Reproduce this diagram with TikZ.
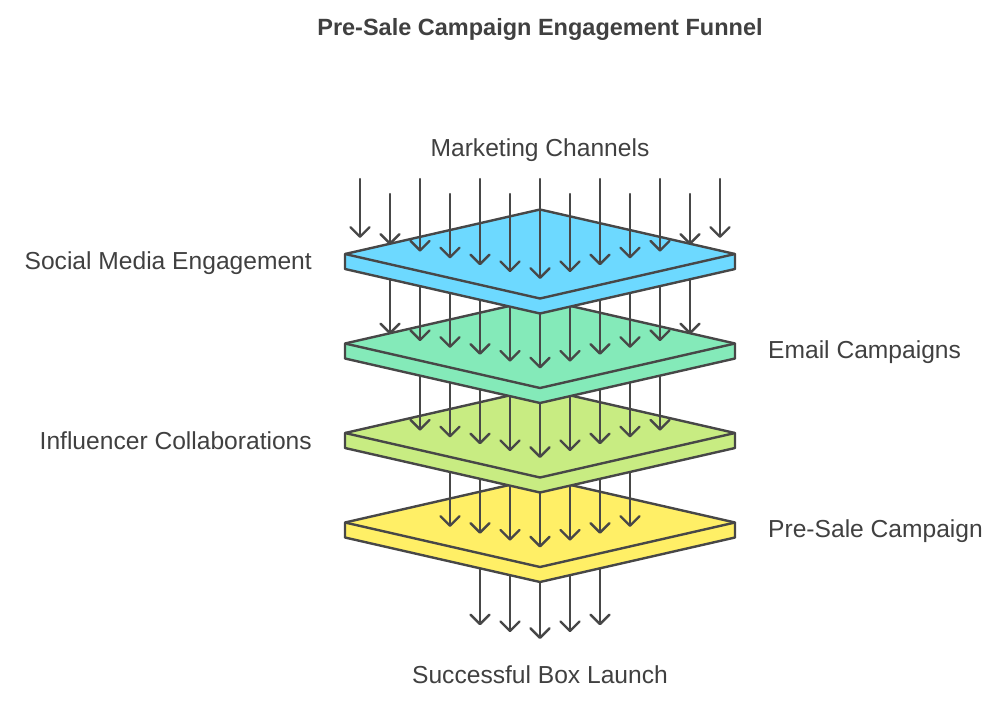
\documentclass[tikz,border=0pt]{standalone}
\usepackage{fontspec}
\setmainfont{Liberation Sans}
\usetikzlibrary{arrows.meta}
\definecolor{ink}{HTML}{474747}
\definecolor{txt}{HTML}{404040}
\definecolor{pblue}{HTML}{6DD9FF}
\definecolor{pgreen}{HTML}{84EAB9}
\definecolor{plime}{HTML}{C8EC82}
\definecolor{pyellow}{HTML}{FFEF66}
\newcommand\myplate[3]{%
  \coordinate (#1) at (540,#2);
  \filldraw[plate, fill=#3] (#1) +(-195,0) -- +(-195,15) -- +(0,59.5) -- +(195,15) -- +(195,0) -- +(0,-44.5) -- cycle;
  \draw[plate] (#1) +(-195,0) -- +(0,44.5) -- +(195,0);
}
\newcommand\myarrows[4]{% list, start y, plate center, name prefix
  \foreach \x in {#1} {
    \pgfmathsetmacro\tipy{#3+25-0.228*abs(\x-540)}
    \coordinate (#4s\x) at (\x,#2);
    \coordinate (#4t\x) at (\x,\tipy);
    \draw[flow] (#4s\x) -- (#4t\x);
  }
}
\begin{document}
\begin{tikzpicture}[x=1pt,y=-1pt,
  flow/.style={draw=ink, line width=2.4pt, line cap=round, -{Straight Barb[length=9.5pt,width=19pt,round]}},
  plate/.style={draw=ink, line width=2.4pt, line join=round},
  lbl/.style={text=txt, inner sep=0pt, font=\fontsize{24.6}{28}\selectfont},
  ttl/.style={text=txt, inner sep=0pt, font=\bfseries\fontsize{23.5}{28}\selectfont}]
\useasboundingbox (0,0) rectangle (1005,705);
\node[ttl] (title) at (540,29) {Pre-Sale Campaign Engagement Funnel};
% output arrows
\myarrows{480,510,...,600}{522.5}{614}{e}
\myplate{p4}{522.5}{pyellow}
\myarrows{450,480,...,630}{433}{522.5}{d}
\myplate{p3}{433}{plime}
\myarrows{420,450,...,660}{343.5}{433}{c}
\myplate{p2}{343.5}{pgreen}
\myarrows{390,420,...,690}{254}{343.5}{b}
\myplate{p1}{254}{pblue}
\foreach \x in {360,390,...,720} {
  \pgfmathsetmacro\tipy{254+25-0.228*abs(\x-540)}
  \pgfmathsetmacro\sty{mod(round((\x-360)/30),2)==0 ? 179 : 194}
  \coordinate (as\x) at (\x,\sty);
  \coordinate (at\x) at (\x,\tipy);
  \draw[flow] (as\x) -- (at\x);
}
\node[lbl] (mc) at (540,150) {Marketing Channels};
\node[lbl, anchor=east] (sm) at (312,263) {Social Media Engagement};
\node[lbl, anchor=west] (em) at (768,352) {Email Campaigns};
\node[lbl, anchor=east] (ic) at (312,441) {Influencer Collaborations};
\node[lbl, anchor=west] (ps) at (768,531) {Pre-Sale Campaign};
\node[lbl] (sb) at (540,675) {Successful Box Launch};
\end{tikzpicture}
\end{document}
